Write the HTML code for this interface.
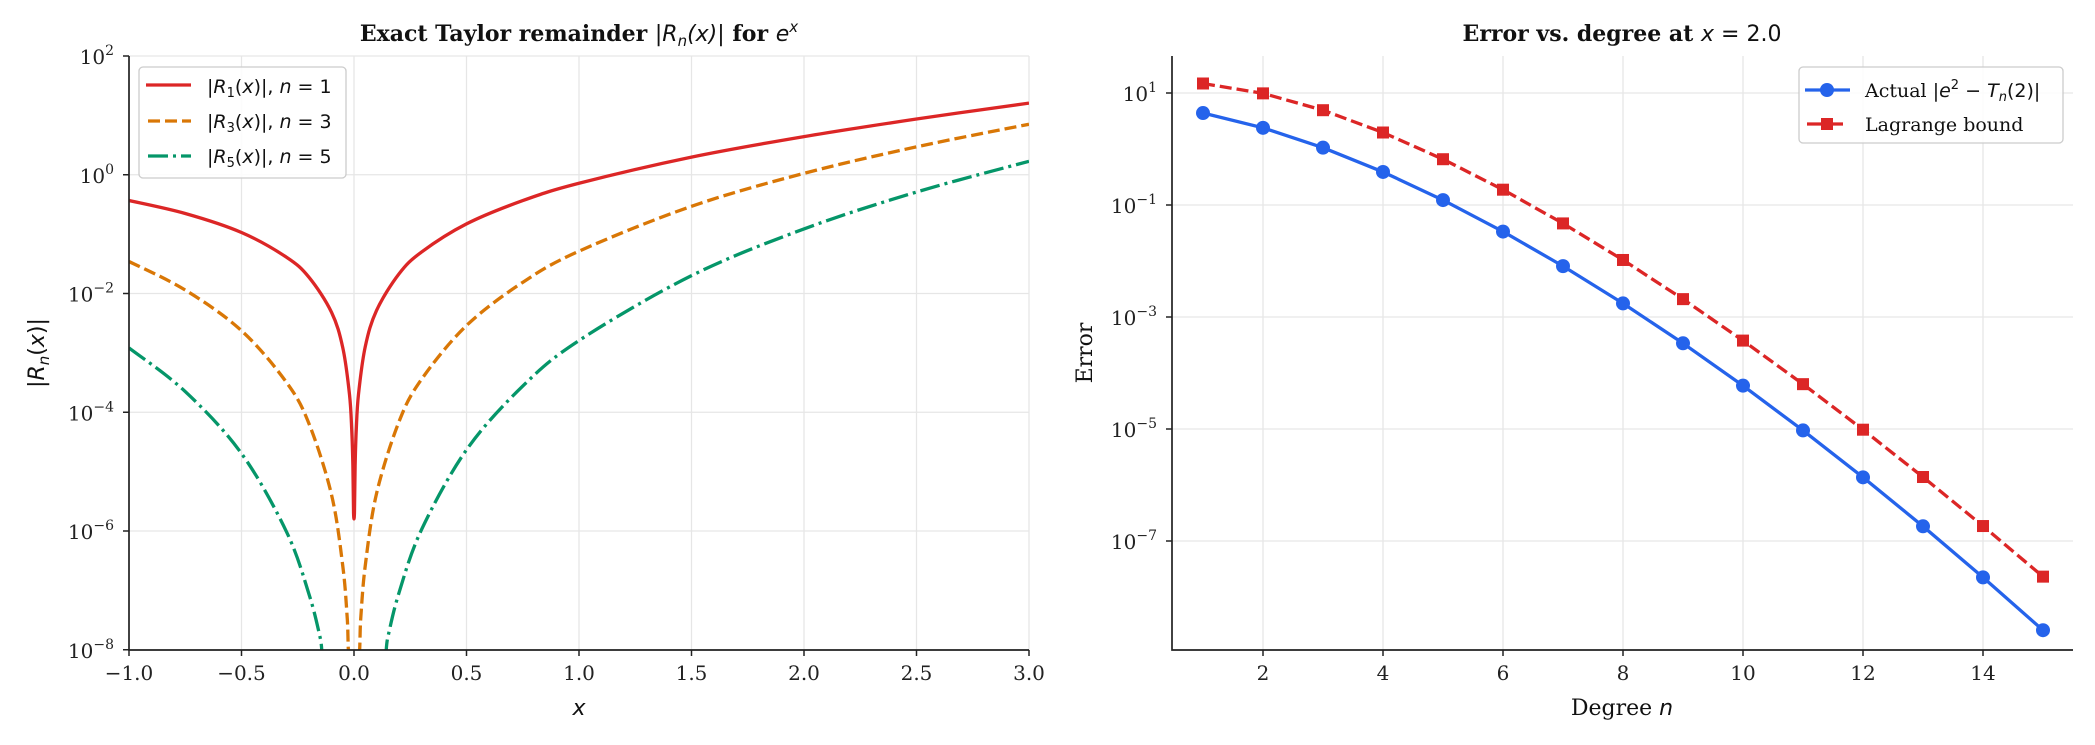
<!DOCTYPE html>
<html><head><meta charset="utf-8"><style>
html,body{margin:0;padding:0;background:#fff}
svg{display:block}
.tk{font-family:"DejaVu Serif","Liberation Serif",serif;font-size:20px;fill:#222}
.m{font-family:"DejaVu Sans","Liberation Sans",sans-serif;font-style:italic}
</style></head><body>
<svg id="chart" width="2095" height="745" xmlns="http://www.w3.org/2000/svg">
<defs>
<clipPath id="cl"><rect x="129" y="56" width="900" height="594"/></clipPath>
<clipPath id="cr"><rect x="1172" y="56" width="901" height="594"/></clipPath>
</defs>
<g id="L"></g>
<g id="R"></g>
</svg>
<script>
// Left chart data
const r1X=[-1,-0.75,-0.5,-0.3,-0.2,-0.1,-0.05,-0.02,-0.01,-0.005,-0.002,0.002,0.005,0.01,0.02,0.05,0.1,0.2,0.3,0.5,0.75,1,1.5,2,2.5,3];
const r1Y=[0.3679,0.2224,0.1065,0.0408,0.01873,0.004837,0.001229,1.987e-4,4.98e-5,1.25e-5,2e-6,2e-6,1.25e-5,5.02e-5,2.01e-4,1.271e-3,5.17e-3,0.0214,0.0499,0.1487,0.367,0.7183,1.9817,4.389,8.682,16.09];
const r3X=[-1,-0.75,-0.5,-0.3,-0.2,-0.1,-0.05,-0.03,-0.02,0.02,0.03,0.05,0.1,0.2,0.3,0.5,0.75,1,1.5,2,2.5,3];
const r3Y=[0.03455,0.01143,0.002364,3.18e-4,6.41e-5,4.09e-6,2.6e-7,3.375e-8,6.67e-9,6.7e-9,3.4e-8,2.6e-7,4.25e-6,6.94e-5,3.58e-4,0.002888,0.01543,0.05162,0.2942,1.056,2.953,7.0855];
const r5X=[-1,-0.75,-0.5,-0.3,-0.2,-0.15,-0.12,0.12,0.15,0.2,0.3,0.5,0.75,1,1.5,2,2.5,3];
const r5Y=[0.001212,2.23e-4,2.02e-5,9.7e-7,8.6e-8,1.58e-8,4.1e-9,4.2e-9,1.6e-8,9.1e-8,1.05e-6,2.33e-5,2.76e-4,1.615e-3,0.02,0.1224,0.5119,1.6855];
const leftXTicks=[-1,-0.5,0,0.5,1,1.5,2,2.5,3];
const leftXTickLabels=["\u22121.0","\u22120.5","0.0","0.5","1.0","1.5","2.0","2.5","3.0"];
const leftYExp=[2,0,-2,-4,-6,-8];
// Right chart data
const degrees=[1,2,3,4,5,6,7,8,9,10,11,12,13,14,15];
const actualErr=[4.389,2.389,1.056,0.389,0.1224,0.0335,0.0081,0.00175,3.39e-4,5.94e-5,9.44e-6,1.37e-6,1.83e-7,2.24e-8,2.55e-9];
const lagrangeBound=[14.78,9.85,4.93,1.97,0.657,0.1877,0.0469,0.01043,2.085e-3,3.79e-4,6.32e-5,9.72e-6,1.389e-6,1.85e-7,2.31e-8];
const rightXTicks=[2,4,6,8,10,12,14];
const rightYExp=[1,-1,-3,-5,-7];

const NS="http://www.w3.org/2000/svg";
function mk(p,t,a,txt){const e=document.createElementNS(NS,t);for(const k in a)e.setAttribute(k,a[k]);if(txt!==undefined)e.innerHTML=txt;p.appendChild(e);return e;}
const L=document.getElementById('L'),R=document.getElementById('R');
const lx=v=>129+(v+1)*225, ly=v=>56+(2-Math.log10(v))*59.375;
leftXTicks.forEach((t,i)=>{
 let g=mk(L,'line',{x1:lx(t),x2:lx(t),y1:56,y2:650,stroke:'#e6e6e6','stroke-width':1.3});
 
 let k=mk(L,'line',{x1:lx(t),x2:lx(t),y1:650,y2:656,stroke:'#222','stroke-width':1.5});
 
 let l=mk(L,'text',{x:lx(t),y:680,'text-anchor':'middle',class:'tk'},leftXTickLabels[i]);
 
});
leftYExp.forEach(e=>{
 const y=ly(Math.pow(10,e));
 let g=mk(L,'line',{x1:129,x2:1029,y1:y,y2:y,stroke:'#e6e6e6','stroke-width':1.3});
 
 let k=mk(L,'line',{x1:123,x2:129,y1:y,y2:y,stroke:'#222','stroke-width':1.5});
 
 let l=mk(L,'text',{x:114,y:y+8,'text-anchor':'end',class:'tk'},'10<tspan dy="-9" font-size="14">'+(e<0?'\u2212'+(-e):e)+'</tspan>');
 
});
function curve(par,xs,ys,fx,fy,attrs,clip,name,smooth){
 const P=xs.map((x,i)=>[fx(x),fy(ys[i])]);
 let d='M'+P[0][0].toFixed(2)+','+P[0][1].toFixed(2);
 for(let i=0;i<P.length-1;i++){
  const p0=P[Math.max(0,i-1)],p1=P[i],p2=P[i+1],p3=P[Math.min(P.length-1,i+2)];
  if(smooth){
   const t=6;
   let c1x=p1[0]+(p2[0]-p0[0])/t,c1y=p1[1]+(p2[1]-p0[1])/t;
   let c2x=p2[0]-(p3[0]-p1[0])/t,c2y=p2[1]-(p3[1]-p1[1])/t;
   c1x=Math.min(Math.max(c1x,p1[0]),p2[0]);c2x=Math.min(Math.max(c2x,p1[0]),p2[0]);
   d+='C'+c1x.toFixed(2)+','+c1y.toFixed(2)+' '+c2x.toFixed(2)+','+c2y.toFixed(2)+' '+p2[0].toFixed(2)+','+p2[1].toFixed(2);
  } else d+='L'+p2[0].toFixed(2)+','+p2[1].toFixed(2);
 }
 const p=mk(par,'path',Object.assign({d:d,fill:'none','clip-path':'url(#'+clip+')','stroke-linejoin':'round'},attrs));
 return p;
}
curve(L,r1X,r1Y,lx,ly,{stroke:'#dc2626','stroke-width':3.3},'cl','curve-r1',true);
curve(L,r3X,r3Y,lx,ly,{stroke:'#d97706','stroke-width':3.3,'stroke-dasharray':'12,5'},'cl','curve-r3',true);
curve(L,r5X,r5Y,lx,ly,{stroke:'#059669','stroke-width':3.3,'stroke-dasharray':'20,5,3,5'},'cl','curve-r5',true);
let s1=mk(L,'path',{d:'M129,56V650H1029',fill:'none',stroke:'#222','stroke-width':1.7});

const rx=n=>1203+(n-1)*60, ry=v=>93+(1-Math.log10(v))*56;
rightXTicks.forEach(t=>{
 let g=mk(R,'line',{x1:rx(t),x2:rx(t),y1:56,y2:650,stroke:'#e6e6e6','stroke-width':1.3});
 
 let k=mk(R,'line',{x1:rx(t),x2:rx(t),y1:650,y2:656,stroke:'#222','stroke-width':1.5});
 
 let l=mk(R,'text',{x:rx(t),y:680,'text-anchor':'middle',class:'tk'},String(t));
 
});
rightYExp.forEach(e=>{
 const y=ry(Math.pow(10,e));
 let g=mk(R,'line',{x1:1172,x2:2073,y1:y,y2:y,stroke:'#e6e6e6','stroke-width':1.3});
 
 let k=mk(R,'line',{x1:1166,x2:1172,y1:y,y2:y,stroke:'#222','stroke-width':1.5});
 
 let l=mk(R,'text',{x:1157,y:y+8,'text-anchor':'end',class:'tk'},'10<tspan dy="-9" font-size="14">'+(e<0?'\u2212'+(-e):e)+'</tspan>');
 
});
curve(R,degrees,lagrangeBound,rx,ry,{stroke:'#dc2626','stroke-width':3.3,'stroke-dasharray':'12,5'},'cr','lagrange-line',false);
curve(R,degrees,actualErr,rx,ry,{stroke:'#2563eb','stroke-width':3.3},'cr','actual-line',false);
degrees.forEach((n,i)=>{
 let q=mk(R,'rect',{x:rx(n)-6,y:ry(lagrangeBound[i])-6,width:12,height:12,fill:'#dc2626'});
 
 let c=mk(R,'circle',{cx:rx(n),cy:ry(actualErr[i]),r:7,fill:'#2563eb'});
 
});
let s2=mk(R,'path',{d:'M1172,56V650H2073',fill:'none',stroke:'#222','stroke-width':1.7});

</script>
<svg width="2095" height="745" style="position:absolute;left:0;top:0" xmlns="http://www.w3.org/2000/svg">
<text x="579" y="41" text-anchor="middle" font-family="DejaVu Serif, Liberation Serif, serif" font-weight="bold" font-size="22" fill="#111">Exact Taylor remainder <tspan class="m" font-weight="normal">|R<tspan font-size="15" dy="5">n</tspan><tspan dy="-5">(x)|</tspan></tspan> for <tspan class="m" font-weight="normal">e<tspan font-size="15" dy="-9">x</tspan></tspan></text>
<text x="1622" y="41" text-anchor="middle" font-family="DejaVu Serif, Liberation Serif, serif" font-weight="bold" font-size="22" fill="#111">Error vs. degree at <tspan class="m" font-weight="normal">x</tspan><tspan font-family="DejaVu Sans, sans-serif" font-weight="normal"> = 2.0</tspan></text>
<text x="579" y="715" text-anchor="middle" class="m" font-size="22" fill="#111">x</text>
<text transform="translate(44,353) rotate(-90)" text-anchor="middle" font-family="DejaVu Sans, sans-serif" font-size="22" fill="#111">|<tspan class="m">R</tspan><tspan class="m" font-size="15" dy="5">n</tspan><tspan dy="-5">(</tspan><tspan class="m">x</tspan>)|</text>
<text x="1622" y="715" text-anchor="middle" font-family="DejaVu Serif, Liberation Serif, serif" font-size="22" fill="#111">Degree <tspan class="m">n</tspan></text>
<text transform="translate(1092,353) rotate(-90)" text-anchor="middle" font-family="DejaVu Serif, Liberation Serif, serif" font-size="22" fill="#111">Error</text>
<g>
<rect x="139" y="67" width="207" height="111" rx="4" fill="#fff" fill-opacity="0.85" stroke="#ccc" stroke-width="1.3"/>
<line x1="146" x2="191" y1="85" y2="85" stroke="#dc2626" stroke-width="3.3"/>
<line x1="148" x2="191" y1="121" y2="121" stroke="#d97706" stroke-width="3.3" stroke-dasharray="12,5"/>
<line x1="148" x2="191" y1="156" y2="156" stroke="#059669" stroke-width="3.3" stroke-dasharray="20,5,3,5"/>
<text x="207" y="93" font-family="DejaVu Sans, sans-serif" font-size="19" fill="#111">|<tspan class="m">R</tspan><tspan font-size="13" dy="4">1</tspan><tspan dy="-4">(</tspan><tspan class="m">x</tspan>)|, <tspan class="m">n</tspan> = 1</text>
<text x="207" y="128" font-family="DejaVu Sans, sans-serif" font-size="19" fill="#111">|<tspan class="m">R</tspan><tspan font-size="13" dy="4">3</tspan><tspan dy="-4">(</tspan><tspan class="m">x</tspan>)|, <tspan class="m">n</tspan> = 3</text>
<text x="207" y="163" font-family="DejaVu Sans, sans-serif" font-size="19" fill="#111">|<tspan class="m">R</tspan><tspan font-size="13" dy="4">5</tspan><tspan dy="-4">(</tspan><tspan class="m">x</tspan>)|, <tspan class="m">n</tspan> = 5</text>
</g>
<g>
<rect x="1799" y="67" width="264" height="76" rx="4" fill="#fff" fill-opacity="0.85" stroke="#ccc" stroke-width="1.3"/>
<line x1="1805" x2="1850" y1="90" y2="90" stroke="#2563eb" stroke-width="3.3"/>
<circle cx="1827" cy="90" r="7" fill="#2563eb"/>
<line x1="1807" x2="1843" y1="124" y2="124" stroke="#dc2626" stroke-width="3.3"/>
<rect x="1821" y="118" width="12" height="12" fill="#dc2626"/>
<text x="1865" y="97" font-family="DejaVu Serif, Liberation Serif, serif" font-size="19" fill="#111">Actual <tspan font-family="DejaVu Sans, sans-serif">|<tspan class="m">e</tspan><tspan font-size="13" dy="-8">2</tspan><tspan dy="8"> − </tspan><tspan class="m">T</tspan><tspan class="m" font-size="13" dy="4">n</tspan><tspan dy="-4">(2)|</tspan></tspan></text>
<text x="1865" y="131" font-family="DejaVu Serif, Liberation Serif, serif" font-size="19" fill="#111">Lagrange bound</text>
</g>
</svg>
</body></html>
